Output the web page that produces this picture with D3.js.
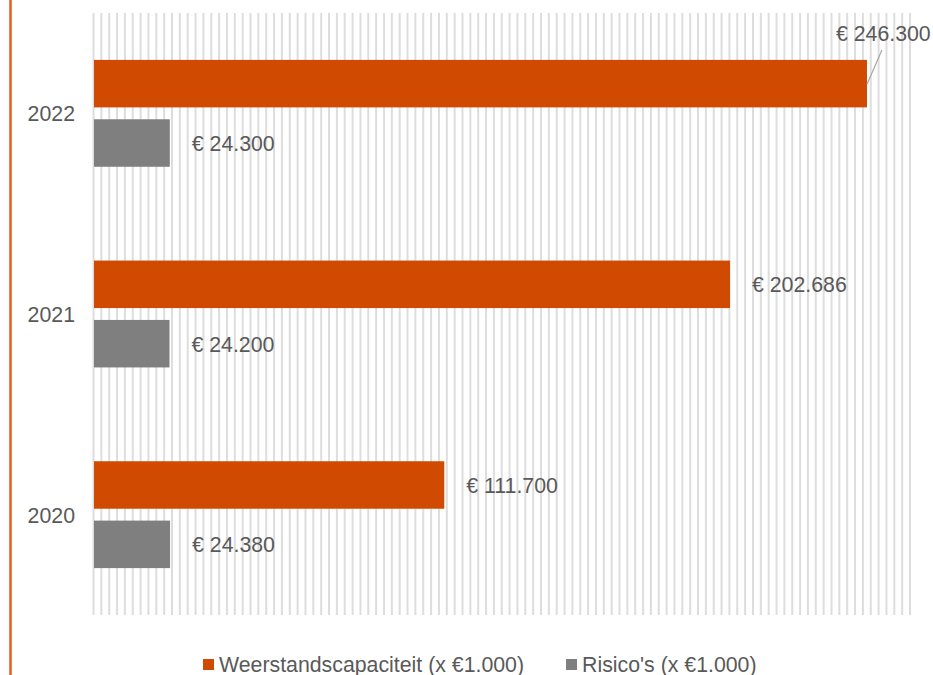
<!DOCTYPE html>
<html>
<head>
<meta charset="utf-8">
<script src="https://cdn.jsdelivr.net/npm/d3@7"></script>
<style>
  html, body { margin: 0; padding: 0; background: #fff; }
  svg { display: block; font-family: "Liberation Sans", Arial, sans-serif; }
</style>
</head>
<body>
<svg id="chart" width="933" height="675"></svg>
<script>
// Jaren (van boven naar beneden) en reeksen
const years = ["2022", "2021", "2020"];
const seriesNames = ["Weerstandscapaciteit (x €1.000)", "Risico's (x €1.000)"];
const weerstandscapaciteit = [246300, 202686, 111700];
const risicos = [24300, 24200, 24380];
const seriesColors = ["#D04A02", "#7F7F7F"];
const axisMax = 260000;
const gridStep = 2500;

const fontSize = 21.3;
const fmt = v => "€ " + d3.format(",")(v).replace(/,/g, ".");

const svg = d3.select("#chart");
const plot = { left: 93.5, right: 910, top: 13, bottom: 615 };

// Oranje lijn langs de linkerrand
svg.append("line")
  .attr("x1", 10.5).attr("x2", 10.5)
  .attr("y1", 0).attr("y2", 675)
  .attr("stroke", "#E45F1E").attr("stroke-width", 2.5);

const x = d3.scaleLinear().domain([0, axisMax]).range([plot.left, plot.right]);
const y = d3.scaleBand().domain(years).range([plot.top, plot.bottom]).padding(0);
const ySub = d3.scaleBand().domain([0, 1]).range([0, y.bandwidth()])
  .paddingInner(0.2).paddingOuter(0.79);

// Verticale rasterlijnen
svg.append("g")
  .selectAll("line")
  .data(d3.range(0, axisMax + 1, gridStep))
  .join("line")
  .attr("x1", d => x(d)).attr("x2", d => x(d))
  .attr("y1", plot.top).attr("y2", plot.bottom)
  .attr("stroke", "#DDDDDD").attr("stroke-width", 2);

const rows = years.map((yr, i) => ({
  year: yr,
  values: [weerstandscapaciteit[i], risicos[i]]
}));

const groups = svg.append("g").selectAll("g")
  .data(rows).join("g")
  .attr("transform", d => `translate(0,${y(d.year)})`);

groups.selectAll("rect")
  .data(d => d.values.map((v, s) => ({ v, s, year: d.year })))
  .join("rect")
  .attr("x", x(0) + 0.5)
  .attr("y", d => ySub(d.s))
  .attr("width", d => x(d.v) - x(0) - 0.5)
  .attr("height", ySub.bandwidth())
  .attr("fill", d => seriesColors[d.s]);

// Waardelabels
groups.selectAll("text.val")
  .data(d => d.values.map((v, s) => ({ v, s, year: d.year })))
  .join("text")
  .attr("class", "val")
  .attr("font-size", fontSize)
  .attr("fill", "#595959")
  .each(function (d) {
    const t = d3.select(this).text(fmt(d.v));
    const cy = ySub(d.s) + ySub.bandwidth() / 2;
    if (d.year === "2022" && d.s === 0) {
      // label boven de balk geplaatst, met verbindingslijn
      t.attr("x", x(d.v) - 31).attr("y", cy - 51).attr("dy", "0.37em");
    } else {
      t.attr("x", x(d.v) + 22).attr("y", cy).attr("dy", "0.37em");
    }
  });

// Verbindingslijn voor het verplaatste label
const firstRow = rows[0];
svg.append("line")
  .attr("x1", x(firstRow.values[0]))
  .attr("y1", y(firstRow.year) + ySub(0) + ySub.bandwidth() / 2 + 0.5)
  .attr("x2", x(firstRow.values[0]) + 15)
  .attr("y2", y(firstRow.year) + ySub(0) - 10)
  .attr("stroke", "#A6A6A6").attr("stroke-width", 1.2);

// Jaartallen
svg.append("g").selectAll("text")
  .data(years).join("text")
  .attr("x", 75)
  .attr("y", d => y(d) + y.bandwidth() / 2)
  .attr("dy", "0.37em")
  .attr("text-anchor", "end")
  .attr("font-size", fontSize)
  .attr("fill", "#595959")
  .text(d => d);

// Legenda
const legend = svg.append("g").attr("transform", "translate(203,0)");
let lx = 0;
seriesNames.forEach((name, i) => {
  const g = legend.append("g").attr("transform", `translate(${lx},0)`);
  g.append("rect").attr("x", 0).attr("y", 659).attr("width", 11).attr("height", 11)
    .attr("fill", seriesColors[i]);
  const t = g.append("text").attr("x", 16).attr("y", 672)
    .attr("font-size", fontSize).attr("fill", "#595959").text(name);
  lx += 16 + t.node().getComputedTextLength() + 42;
});
</script>
</body>
</html>
